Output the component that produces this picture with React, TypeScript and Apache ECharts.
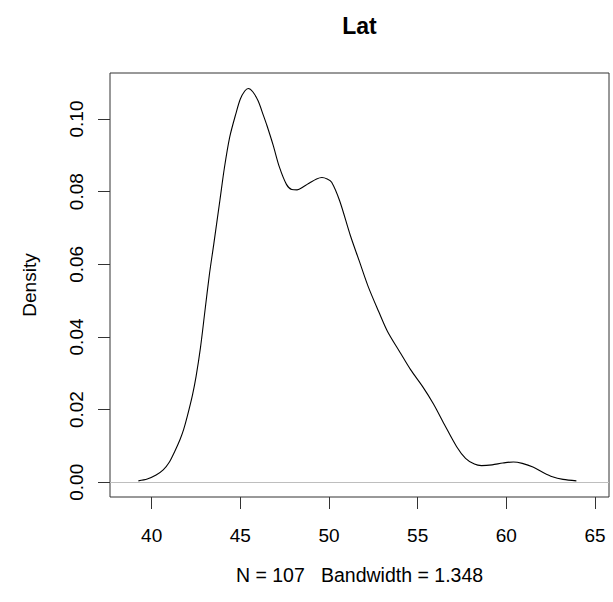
import React, { useEffect, useRef } from "react";
import * as echarts from "echarts";

const latX = [39.25, 39.75, 40.25, 40.65, 41.0, 41.3, 41.6, 41.8, 42.0, 42.3, 42.5, 42.75, 43.0, 43.25, 43.5, 43.85, 44.1, 44.4, 44.75, 45.0, 45.25, 45.45, 45.7, 46.0, 46.3, 46.5, 46.85, 47.2, 47.6, 47.9, 48.2, 48.6, 48.9, 49.3, 49.6, 49.9, 50.15, 50.6, 51.2, 51.7, 52.2, 52.8, 53.3, 54.0, 54.6, 55.3, 55.9, 56.5, 57.2, 57.7, 58.2, 58.6, 59.2, 59.8, 60.4, 60.9, 61.5, 62.1, 62.6, 63.2, 63.95];
const densityY = [0.0004, 0.0009, 0.002, 0.0034, 0.0056, 0.0085, 0.0118, 0.0145, 0.018, 0.024, 0.029, 0.037, 0.047, 0.057, 0.0655, 0.0777, 0.0865, 0.095, 0.1015, 0.1055, 0.1077, 0.1084, 0.1075, 0.105, 0.101, 0.0982, 0.0928, 0.0868, 0.082, 0.0806, 0.0805, 0.0815, 0.0824, 0.0835, 0.0839, 0.0835, 0.0826, 0.0775, 0.068, 0.061, 0.054, 0.047, 0.0415, 0.0358, 0.031, 0.0262, 0.0215, 0.016, 0.0098, 0.0066, 0.005, 0.0046, 0.0048, 0.0053, 0.0056, 0.0052, 0.0042, 0.0026, 0.0015, 0.0008, 0.0004];
const xTicks = [40, 45, 50, 55, 60, 65];
const yTicks = [0, 0.02, 0.04, 0.06, 0.08, 0.1];
const titleText = "Lat";
const xName = "N = 107\u00A0\u00A0\u00A0Bandwidth = 1.348";
const yName = "Density";

const FONT = "'Liberation Sans', Arial, Helvetica, sans-serif";

export default function App() {
  const ref = useRef<HTMLDivElement>(null);
  useEffect(() => {
    if (!ref.current) return;
    const chart = echarts.init(ref.current, undefined, { renderer: "svg" });
    const data = latX.map((x, i) => [x, densityY[i]]);
    chart.setOption({
      animation: false,
      backgroundColor: "#ffffff",
      grid: {
        left: 110,
        top: 73,
        width: 499,
        height: 424,
        show: true,
        borderColor: "#333333",
        borderWidth: 1,
        containLabel: false,
      },
      graphic: [
        {
          type: "text",
          x: 359.5,
          y: 26,
          style: {
            text: titleText,
            font: `bold 23px ${FONT}`,
            fill: "#000",
            textAlign: "center",
            textVerticalAlign: "middle",
          },
        },
      ],
      xAxis: {
        type: "value",
        min: 37.65,
        max: 65.79,
        name: xName,
        nameLocation: "middle",
        nameGap: 68,
        nameTextStyle: { fontSize: 19.5, fontFamily: FONT, color: "#000" },
        axisLine: { show: false, onZero: false },
        axisTick: {
          show: true,
          inside: false,
          length: 12,
          customValues: xTicks,
          lineStyle: { color: "#333333", width: 1 },
        },
        axisLabel: {
          customValues: xTicks,
          margin: 29,
          fontSize: 19,
          fontFamily: FONT,
          color: "#000",
        },
        splitLine: { show: false },
      },
      yAxis: {
        type: "value",
        min: -0.00405,
        max: 0.11266,
        name: yName,
        nameLocation: "middle",
        nameGap: 71,
        nameRotate: 90,
        nameTextStyle: { fontSize: 19, fontFamily: FONT, color: "#000" },
        axisLine: { show: false, onZero: false },
        axisTick: {
          show: true,
          inside: false,
          length: 12,
          customValues: yTicks,
          lineStyle: { color: "#333333", width: 1 },
        },
        axisLabel: {
          customValues: yTicks,
          rotate: 90,
          margin: 24,
          fontSize: 19,
          fontFamily: FONT,
          color: "#000",
          formatter: (v: number) => v.toFixed(2),
        },
        splitLine: { show: false },
      },
      series: [
        {
          type: "line",
          data,
          showSymbol: false,
          smooth: 0.3,
          lineStyle: { color: "#000", width: 1.1 },
          z: 3,
          markLine: {
            silent: true,
            symbol: ["none", "none"],
            label: { show: false },
            lineStyle: { color: "#bebebe", width: 1, type: "solid" },
            data: [{ yAxis: 0 }],
            z: 2,
          },
        },
      ],
    });
    return () => chart.dispose();
  }, []);
  return (
    <div
      ref={ref}
      style={{ position: "fixed", left: 0, top: 0, width: 613, height: 602, background: "#fff" }}
    />
  );
}
